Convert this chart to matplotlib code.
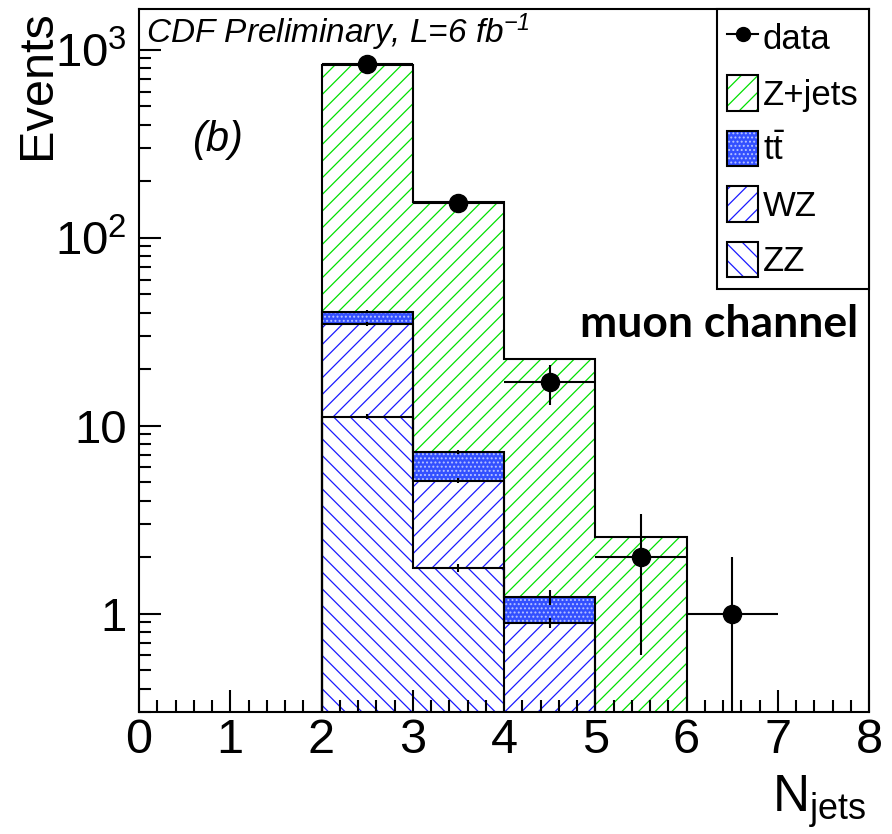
import numpy as np
import matplotlib
matplotlib.use('Agg')
import matplotlib.pyplot as plt
from matplotlib.patches import Patch
from matplotlib.lines import Line2D
from matplotlib.ticker import FixedLocator, FixedFormatter, MultipleLocator, LogLocator, NullFormatter

plt.rcParams['font.family'] = ['Liberation Sans', 'DejaVu Sans']
plt.rcParams['mathtext.fontset'] = 'custom'
plt.rcParams['mathtext.rm'] = 'Liberation Sans'
plt.rcParams['mathtext.it'] = 'Liberation Sans:italic'
plt.rcParams['mathtext.bf'] = 'Liberation Sans:bold'
plt.rcParams['mathtext.default'] = 'regular'
plt.rcParams['hatch.linewidth'] = 0.9

# bin edges in N_jets
edges = [2, 3, 4, 5, 6]

# stacked MC contributions per bin
zz = [11.2, 1.75, 0.2, 0.0]
wz = [23.6, 3.35, 0.69, 0.0]
ttbar = [5.7, 2.15, 0.33, 0.0]
zjets = [789.5, 148.75, 21.4, 2.55]

# small MC stat errors drawn at bin centres (top of each stack layer)
err_zz = [0.4, 0.08, 0.0, 0.0]
err_wz = [0.8, 0.15, 0.055, 0.0]
err_tt = [0.9, 0.2, 0.11, 0.0]

# data
data_x = [2.5, 3.5, 4.5, 5.5, 6.5]
data_y = [837, 154, 17, 2, 1]
data_err = [29, 12.4, 4.1, 1.4, 1.0]

green = '#00e000'
blue = '#1a1aff'
tt_face = '#3350ff'
tt_dots = '#b8c4ff'

fig = plt.figure(figsize=(8.92, 8.34), dpi=100)
ax = fig.add_axes([139/892, (834-712)/834, 730/892, 703/834])
ax.set_yscale('log')

layers = [
    (zz, dict(hatch='\\\\', facecolor='none', edgecolor=blue)),
    (wz, dict(hatch='//', facecolor='none', edgecolor=blue)),
    (ttbar, dict(hatch='....', facecolor=tt_face, edgecolor=tt_dots)),
    (zjets, dict(hatch='//', facecolor='none', edgecolor=green)),
]

floor = 1e-2
lower = np.full(len(zz), floor)
cum = np.zeros(len(zz))
tops = []
for vals, style in layers:
    cum = cum + np.array(vals)
    upper = np.clip(cum, floor, None)
    ax.stairs(upper, edges, baseline=lower, fill=True, linewidth=0, **style)
    tops.append(upper.copy())
    lower = upper.copy()

for upper in tops:
    ax.stairs(upper, edges, baseline=floor, fill=False, color='k', linewidth=1.5)

# MC error ticks
centers = np.array(edges[:-1]) + 0.5
cz = np.array(zz)
cw = cz + np.array(wz)
ct = cw + np.array(ttbar)
for top, err in [(cz, err_zz), (cw, err_wz), (ct, err_tt)]:
    m = (top > 0.3) & (np.array(err) > 0)
    ax.errorbar(centers[m], top[m], yerr=np.array(err)[m], fmt='none', ecolor='k', elinewidth=1.5, capsize=0)

# data points
dy = np.array(data_y, dtype=float)
de = np.array(data_err)
lo = dy - np.maximum(dy - de, floor)
ax.errorbar(data_x, dy, yerr=[lo, de], xerr=0.5, fmt='o', color='k', ms=13,
            elinewidth=1.5, capsize=0, zorder=5)

ax.set_xlim(0, 8)
ax.set_ylim(0.3, 1650)

ax.xaxis.set_major_locator(MultipleLocator(1))
ax.xaxis.set_minor_locator(MultipleLocator(0.2))
ax.yaxis.set_major_locator(FixedLocator([1, 10, 100, 1000]))
ax.yaxis.set_major_formatter(FixedFormatter(['1', '10', r'$10^{2}$', r'$10^{3}$']))
ax.yaxis.set_minor_locator(LogLocator(base=10, subs=np.arange(2, 10), numticks=20))
ax.yaxis.set_minor_formatter(NullFormatter())

ax.tick_params(which='both', direction='in', top=False, right=False, width=1.5)
ax.tick_params(which='major', length=16)
ax.tick_params(which='minor', length=8.5)
ax.tick_params(axis='x', pad=4, labelsize=35)
ax.tick_params(axis='y', pad=9, labelsize=34)
for s in ax.spines.values():
    s.set_linewidth(1.5)

fig.text(37/892, (834-10)/834, 'Events', rotation=90, ha='center', va='top', fontsize=35)
fig.text(866/892, (834-812)/834, r'N$_{\mathrm{jets}}$', ha='right', va='baseline', fontsize=37)

fig.text(146/892, (834-43)/834, r'CDF Preliminary, L=6 fb$^{-1}$', style='italic',
         ha='left', va='baseline', fontsize=24)
fig.text(217/892, (834-140)/834, '(b)', style='italic', ha='center', va='center', fontsize=30)
fig.text(580/892, (834-337)/834, 'muon channel', family='Lato', weight='bold',
         ha='left', va='baseline', fontsize=32)

# legend
box = lambda **kw: Patch(linewidth=0, **kw)
frame = Patch(fill=False, edgecolor='k', linewidth=1.5)
handles = [
    Line2D([], [], color='k', marker='o', ms=10, linewidth=1.5),
    (box(hatch='//', facecolor='none', edgecolor=green), frame),
    (box(hatch='....', facecolor=tt_face, edgecolor=tt_dots), frame),
    (box(hatch='//', facecolor='none', edgecolor=blue), frame),
    (box(hatch='\\\\', facecolor='none', edgecolor=blue), frame),
]
labels = ['data', 'Z+jets', r'$\mathrm{t\bar{t}}$', 'WZ', 'ZZ']
leg = ax.legend(handles, labels, loc='upper right', bbox_to_anchor=(1, 1),
                borderaxespad=0, fontsize=25, handlelength=0.87, handleheight=1.2,
                labelspacing=0.55, handletextpad=0.15, borderpad=0.3,
                fancybox=False, framealpha=1, edgecolor='k')
leg.get_frame().set_linewidth(1.5)

fig.savefig('out.png', dpi=100)
